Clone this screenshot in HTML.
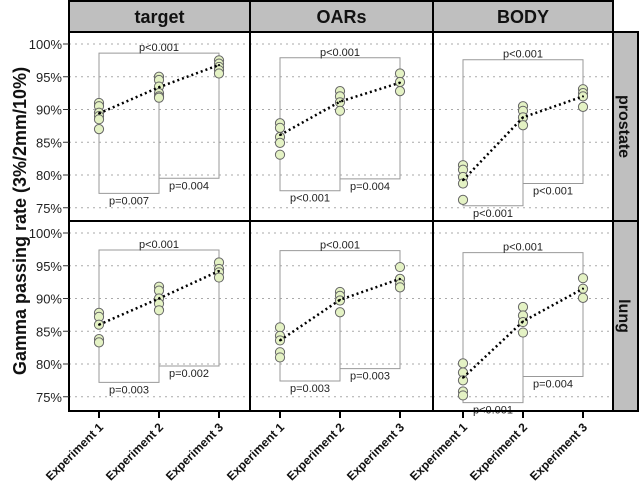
<!DOCTYPE html>
<html><head><meta charset="utf-8"><style>
body{margin:0;background:#fff}
svg{display:block;font-family:"Liberation Sans",Arial,sans-serif}
</style></head><body>
<svg id="c" width="640" height="486" viewBox="0 0 640 486"></svg>
<script>
const columns = ["target","OARs","BODY"];
const rows = ["prostate","lung"];
const categories = ["Experiment 1","Experiment 2","Experiment 3"];
const yTicks = [75,80,85,90,95,100];
const yTickLabels = ["75%","80%","85%","90%","95%","100%"];
const pointsProstateTarget = [[91,90.5,89.5,89,88.5,87],[95,94.5,93.5,92.5,92,91.8],[97.5,97,96.5,96,95.5]];
const pointsProstateOARs = [[87.9,87.2,85.8,84.9,83.1],[92.8,92,91.1,89.8],[95.5,94.2,92.8]];
const pointsProstateBODY = [[81.5,80.8,79.7,78.7,76.2],[90.5,89.8,88.8,87.6],[93.1,92.5,92,90.4]];
const pointsLungTarget = [[87.8,87.2,86,83.8,83.3],[91.8,91.2,90,89.2,88.2],[95.5,94.5,94,93.2]];
const pointsLungOARs = [[85.6,84.3,83.6,81.8,81],[91,90.4,89.7,87.9],[94.8,93,92.2,91.7]];
const pointsLungBODY = [[80.1,78.7,77.5,75.8,75.2],[88.7,87.4,86.4,84.8],[93.1,91.5,90.1]];
const meansProstate = [[89.4,93.4,96.8],[86.1,91.2,94.1],[79.2,88.8,92.0]];
const meansLung = [[86.0,90.0,94.2],[83.6,89.8,93.0],[77.9,86.5,91.5]];
const bracketsProstate = [[98.6,77.2,79.5],[97.9,77.6,79.4],[97.6,75.3,78.7]];
const bracketsLung = [[97.4,77.2,79.7],[97.3,77.4,79.3],[97.0,74.1,78.1]];
const pLabelsProstate = [["p<0.001","p=0.007","p=0.004"],["p<0.001","p<0.001","p=0.004"],["p<0.001","p<0.001","p<0.001"]];
const pLabelsLung = [["p<0.001","p=0.003","p=0.002"],["p<0.001","p=0.003","p=0.003"],["p<0.001","p<0.001","p=0.004"]];

const points=[[pointsProstateTarget,pointsProstateOARs,pointsProstateBODY],[pointsLungTarget,pointsLungOARs,pointsLungBODY]];
const means=[meansProstate,meansLung], brackets=[bracketsProstate,bracketsLung], pl=[pLabelsProstate,pLabelsLung];

const svg=document.getElementById('c'), NS='http://www.w3.org/2000/svg';
function mk(t,a,p){const e=document.createElementNS(NS,t);for(const k in a)e.setAttribute(k,a[k]);(p||svg).appendChild(e);return e;}
const colX=[69,250,433,613], rowY=[32,221,411];
const yScale=(r,v)=>rowY[r]+12+(100-v)*6.55;
const xScale=(c,i)=>colX[c]+30+i*60;

columns.forEach((n,c)=>{
  const r=mk('rect',{x:colX[c],y:1,width:colX[c+1]-colX[c],height:31,fill:'#bfbfbf',stroke:'#000','stroke-width':2});
  
  
  const t=mk('text',{x:(colX[c]+colX[c+1])/2,y:23,'text-anchor':'middle','font-size':18,'font-weight':'bold',fill:'#111'});
  t.textContent=n;
  
  
});
rows.forEach((n,r)=>{
  const rr=mk('rect',{x:613,y:rowY[r],width:25,height:rowY[r+1]-rowY[r],fill:'#bfbfbf',stroke:'#000','stroke-width':2});
  
  
  const cy=(rowY[r]+rowY[r+1])/2;
  const t=mk('text',{x:625,y:cy,'text-anchor':'middle','font-size':16,'font-weight':'bold',fill:'#111',transform:`rotate(90 625 ${cy}) translate(0 6)`});
  t.textContent=n;
  
  
});

rows.forEach((rn,r)=>{
  columns.forEach((cn,c)=>{
    const g=mk('g',{});
    
    
    yTicks.forEach(v=>{
      const y=yScale(r,v);
      const l=mk('line',{x1:colX[c],x2:colX[c+1],y1:y,y2:y,stroke:'#aaa','stroke-width':1,'stroke-dasharray':'2,4'},g);
      
      
    });
    const P=points[r][c], B=brackets[r][c], L=pl[r][c];
    const mx=P.map(a=>Math.max(...a)), mn=P.map(a=>Math.min(...a));
    const x0=xScale(c,0),x1=xScale(c,1),x2=xScale(c,2);
    const bs={fill:'none',stroke:'#999','stroke-width':1};
    const yt=yScale(r,B[0]);
    let b=mk('polyline',Object.assign({points:`${x0},${yScale(r,mx[0])} ${x0},${yt} ${x2},${yt} ${x2},${yScale(r,mx[2])}`},bs),g);
    
    
    const y12=yScale(r,B[1]);
    b=mk('polyline',Object.assign({points:`${x0},${yScale(r,mn[0])} ${x0},${y12} ${x1},${y12} ${x1},${yScale(r,mn[1])}`},bs),g);
    
    
    const y23=yScale(r,B[2]);
    b=mk('polyline',Object.assign({points:`${x1},${yScale(r,mn[1])} ${x1},${y23} ${x2},${y23} ${x2},${yScale(r,mn[2])}`},bs),g);
    
    
    const tp={'font-size':11,fill:'#222','text-anchor':'middle'};
    let t=mk('text',Object.assign({x:(x0+x2)/2,y:yt-2},tp),g);t.textContent=L[0];
    
    
    t=mk('text',Object.assign({x:(x0+x1)/2,y:y12+11},tp),g);t.textContent=L[1];
    
    
    t=mk('text',Object.assign({x:(x1+x2)/2,y:y23+11},tp),g);t.textContent=L[2];
    
    
    P.forEach((arr,i)=>arr.forEach(v=>{
      const ci=mk('circle',{cx:xScale(c,i),cy:yScale(r,v),r:4.6,fill:'#e4f2c4',stroke:'#666','stroke-width':1},g);
      
      
    }));
    const M=means[r][c];
    const ml=mk('polyline',{points:M.map((v,i)=>xScale(c,i)+','+yScale(r,v)).join(' '),fill:'none',stroke:'#000','stroke-width':2.5,'stroke-dasharray':'2,3'},g);
    
    
    M.forEach((v,i)=>{
      const d=mk('circle',{cx:xScale(c,i),cy:yScale(r,v),r:1,fill:'#000'},g);
      
      
    });
    const fr=mk('rect',{x:colX[c],y:rowY[r],width:colX[c+1]-colX[c],height:rowY[r+1]-rowY[r],fill:'none',stroke:'#000','stroke-width':2});
    
    
  });
  yTicks.forEach((v,i)=>{
    const y=yScale(r,v);
    const tk=mk('line',{x1:63,x2:69,y1:y,y2:y,stroke:'#333','stroke-width':1});
    
    
    const t=mk('text',{x:62,y:y+5,'text-anchor':'end','font-size':13,fill:'#222'});
    t.textContent=yTickLabels[i];
    
    
  });
});
columns.forEach((cn,c)=>categories.forEach((cat,i)=>{
  const x=xScale(c,i);
  const tk=mk('line',{x1:x,x2:x,y1:411,y2:418,stroke:'#000','stroke-width':2});
  
  
  const t=mk('text',{x:x+5,y:428,'text-anchor':'end','font-size':12,'font-weight':'bold',fill:'#111',transform:`rotate(-45 ${x+5} 428)`});
  t.textContent=cat;
  
  
}));
const yt=mk('text',{x:26,y:221,'text-anchor':'middle','font-size':18,'font-weight':'bold',fill:'#111',transform:'rotate(-90 26 221)'});
yt.textContent='Gamma passing rate (3%/2mm/10%)';


</script>
</body></html>
